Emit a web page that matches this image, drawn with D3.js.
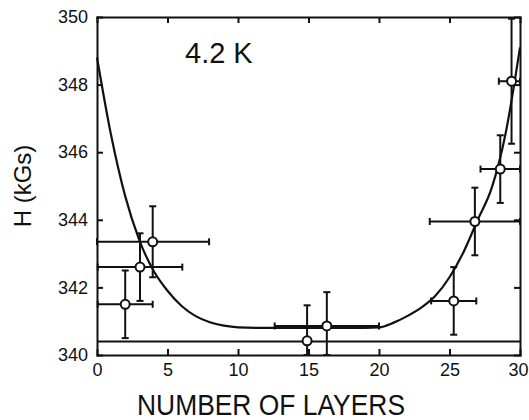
<!DOCTYPE html>
<html>
<head>
<meta charset="utf-8">
<script src="https://cdn.jsdelivr.net/npm/d3@7"></script>
<style>
  body { margin: 0; background: #fff; }
  svg { display: block; }
  text { font-family: "Liberation Sans", Arial, sans-serif; fill: #111; }
  .axis path, .axis line { stroke: #111; stroke-width: 2; }
  .axis text { font-size: 18px; }
</style>
</head>
<body>
<svg id="chart"></svg>
<script>
// measured points
var layers = [2.0, 3.05, 3.95, 14.9, 16.3, 25.3, 26.8, 28.6, 29.4];
var field  = [341.5, 342.6, 343.35, 340.42, 340.86, 341.6, 343.95, 345.5, 348.1];
var layersErr = [1.95, 3.0, 4.0, 0, 3.7, 1.6, 3.2, 1.4, 0.9];
var fieldErr  = [1.0, 1.0, 1.05, 1.05, 1.0, 1.0, 1.0, 1.0, 1.85];

// fitted curve
var fitLayers = [0, 1, 2, 3, 4, 5, 6, 7, 8, 9, 10, 12, 15, 18, 20, 21, 22, 23, 24, 25, 26, 27, 28, 29, 30];
var fitField  = [348.8, 346.5, 344.7, 343.4, 342.5, 341.9, 341.45, 341.15, 340.97, 340.87, 340.82, 340.8, 340.8, 340.8, 340.82, 340.95, 341.15, 341.4, 341.75, 342.3, 343.05, 344.0, 344.95, 346.6, 349.1];

// horizontal reference level
var baseLevel = 340.4;

var xTicks = [0, 5, 10, 15, 20, 25, 30];
var yTicks = [340, 342, 344, 346, 348, 350];

var margin = {top: 17, right: 9, bottom: 65, left: 97};
var width = 529 - margin.left - margin.right,
    height = 420 - margin.top - margin.bottom;

var x = d3.scaleLinear().domain([0, 30]).range([0, width]).clamp(true);
var y = d3.scaleLinear().domain([340, 350]).range([height, 0]).clamp(true);

var svg = d3.select("#chart")
  .attr("width", 529)
  .attr("height", 420)
  .append("g")
    .attr("transform", "translate(" + margin.left + "," + margin.top + ")");

//Axes, ticks pointing inward on all four sides
var xAxis = svg.append("g")
  .attr("class", "axis")
  .attr("transform", "translate(0," + height + ")")
  .call(d3.axisBottom(x).tickValues(xTicks).tickSizeInner(-6).tickSizeOuter(0).tickPadding(8));
xAxis.selectAll(".tick text").filter(function(d){ return d === 30; }).attr("dx", -2);

svg.append("g")
  .attr("class", "axis")
  .call(d3.axisTop(x).tickValues(xTicks).tickSizeInner(-6).tickSizeOuter(0).tickFormat(""));

svg.append("g")
  .attr("class", "axis")
  .call(d3.axisLeft(y).tickValues(yTicks).tickSizeInner(-6).tickSizeOuter(0).tickPadding(9));

svg.append("g")
  .attr("class", "axis")
  .attr("transform", "translate(" + width + ",0)")
  .call(d3.axisRight(y).tickValues(yTicks).tickSizeInner(-6).tickSizeOuter(0).tickFormat(""));

svg.selectAll(".axis .domain").attr("stroke-linecap", "square");

//Reference level
svg.append("line")
  .attr("x1", x(0)).attr("x2", x(30))
  .attr("y1", y(baseLevel)).attr("y2", y(baseLevel))
  .style("stroke", "#111")
  .style("stroke-width", 2);

//Fitted curve
var fit = fitLayers.map(function(d, i){ return [d, fitField[i]]; });
svg.append("path")
  .datum(fit)
  .attr("fill", "none")
  .attr("stroke", "#111")
  .attr("stroke-width", 2.2)
  .attr("d", d3.line()
    .x(function(d){ return x(d[0]); })
    .y(function(d){ return y(d[1]); })
    .curve(d3.curveMonotoneX));

//Error bars and points
var pts = layers.map(function(d, i){
  return {x: d, h: field[i], dx: layersErr[i], dh: fieldErr[i]};
});
var cap = 3.5;
var g = svg.append("g").style("stroke", "#111").style("stroke-width", 2);

pts.forEach(function(p){
  var cx = x(p.x), cy = y(p.h);
  var top = y(p.h + p.dh), bot = y(p.h - p.dh);
  g.append("line").attr("x1", cx).attr("x2", cx).attr("y1", top).attr("y2", bot);
  g.append("line").attr("x1", cx - cap).attr("x2", cx + cap).attr("y1", top).attr("y2", top);
  g.append("line").attr("x1", cx - cap).attr("x2", cx + cap).attr("y1", bot).attr("y2", bot);
  if(p.dx > 0){
    var l = x(p.x - p.dx), r = x(p.x + p.dx);
    g.append("line").attr("x1", l).attr("x2", r).attr("y1", cy).attr("y2", cy);
    g.append("line").attr("x1", l).attr("x2", l).attr("y1", cy - cap).attr("y2", cy + cap);
    g.append("line").attr("x1", r).attr("x2", r).attr("y1", cy - cap).attr("y2", cy + cap);
  }
});

svg.selectAll(".pt")
  .data(pts)
  .enter().append("circle")
  .attr("class", "pt")
  .attr("cx", function(d){ return x(d.x); })
  .attr("cy", function(d){ return y(d.h); })
  .attr("r", 4.5)
  .style("fill", "#fff")
  .style("stroke", "#111")
  .style("stroke-width", 2);

//Labels
svg.append("text")
  .attr("x", 88)
  .attr("y", 46)
  .style("font-size", "29px")
  .text("4.2 K");

svg.append("text")
  .attr("x", 174)
  .attr("y", height + 60)
  .attr("text-anchor", "middle")
  .attr("textLength", 268)
  .attr("lengthAdjust", "spacingAndGlyphs")
  .style("font-size", "29px")
  .text("NUMBER OF LAYERS");

svg.append("text")
  .attr("transform", "translate(-66," + (186 - margin.top) + ") rotate(-90)")
  .attr("text-anchor", "middle")
  .style("font-size", "24px")
  .text("H (kGs)");
</script>
</body>
</html>
